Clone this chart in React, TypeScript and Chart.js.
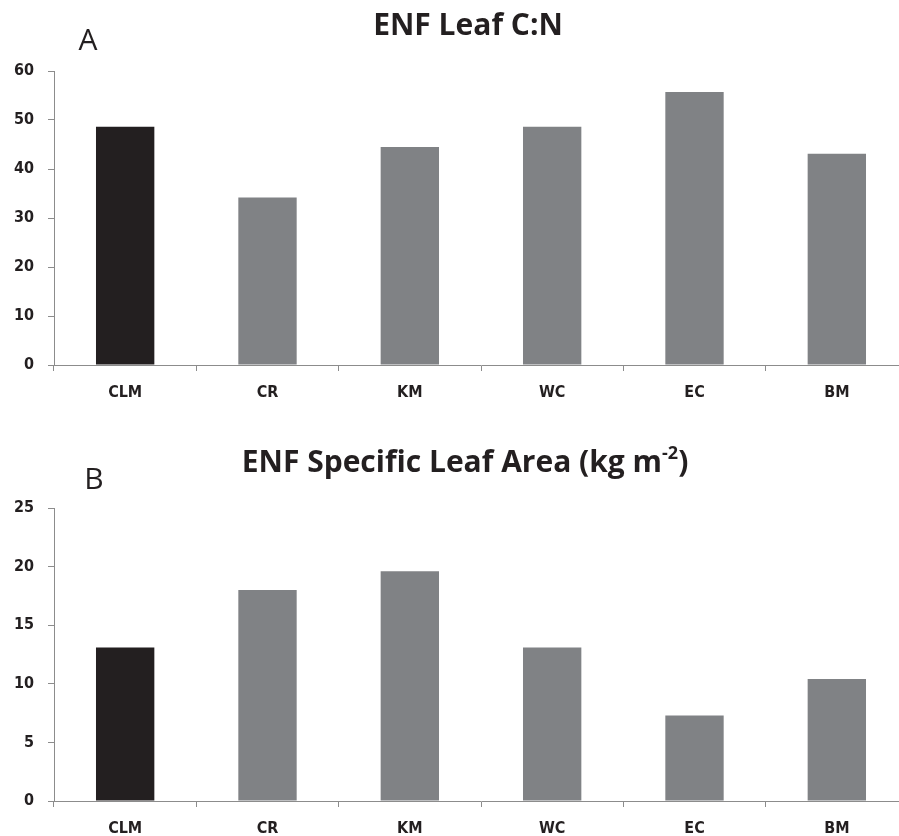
import React, { useEffect, useRef } from "react";
import { Chart, registerables } from "chart.js";

Chart.register(...registerables);

const categories = ["CLM", "CR", "KM", "WC", "EC", "BM"];
const leafCN = [48.6, 34.2, 44.5, 48.6, 55.7, 43.1];
const specificLeafArea = [13.1, 18.0, 19.6, 13.1, 7.3, 10.4];
const barColors = ["#231f20", "#808285", "#808285", "#808285", "#808285", "#808285"];

const titleA = [{ text: "ENF Leaf C:N" }];
const titleB = [
  { text: "ENF Specific Leaf Area (kg m" },
  { text: "-2", sup: true },
  { text: ")" },
];

const AXIS = "#8c8c8c";
const INK = "#231f20";

type Seg = { text: string; sup?: boolean };

const panelText = {
  id: "panelText",
  afterDraw(chart: any, _args: any, opts: any) {
    const ctx = chart.ctx as CanvasRenderingContext2D;
    ctx.save();
    ctx.fillStyle = INK;
    ctx.textBaseline = "alphabetic";
    const mainFont = `bold ${opts.titleSize}px "Open Sans"`;
    const supFont = `bold ${Math.round(opts.titleSize * 0.6)}px "Open Sans"`;
    const segs: Seg[] = opts.title;
    let total = 0;
    const widths = segs.map((s) => {
      ctx.font = s.sup ? supFont : mainFont;
      const w = ctx.measureText(s.text).width;
      total += w;
      return w;
    });
    let x = opts.titleX - total / 2;
    ctx.textAlign = "left";
    segs.forEach((s, i) => {
      ctx.font = s.sup ? supFont : mainFont;
      ctx.fillText(s.text, x, s.sup ? opts.titleY - opts.titleSize * 0.42 : opts.titleY);
      x += widths[i];
    });
    ctx.font = `${opts.letterSize}px "Open Sans"`;
    ctx.textAlign = "center";
    ctx.fillText(opts.letter, opts.letterX, opts.letterY);
    ctx.restore();
  },
};

type PanelProps = {
  values: number[];
  yMax: number;
  yStep: number;
  padTop: number;
  xHeight: number;
  title: Seg[];
  titleX: number;
  titleY: number;
  letter: string;
  letterX: number;
  letterY: number;
};

function BarPanel(p: PanelProps) {
  const ref = useRef<HTMLCanvasElement | null>(null);
  useEffect(() => {
    if (!ref.current) return;
    const tickFont = {
      family: '"DejaVu Sans Condensed", "DejaVu Sans"',
      size: 16,
      weight: "bold" as const,
    };
    const chart = new Chart(ref.current, {
      type: "bar",
      data: {
        labels: categories,
        datasets: [
          {
            data: p.values,
            backgroundColor: barColors,
            borderWidth: 0,
            categoryPercentage: 1,
            barPercentage: 0.41,
          },
        ],
      },
      options: {
        responsive: false,
        animation: false,
        devicePixelRatio: 1,
        layout: { padding: { top: p.padTop, right: 4, left: 0, bottom: 0 } },
        plugins: {
          legend: { display: false },
          tooltip: { enabled: false },
          title: { display: false },
          panelText: {
            title: p.title,
            titleSize: 30,
            titleX: p.titleX,
            titleY: p.titleY,
            letter: p.letter,
            letterSize: 30,
            letterX: p.letterX,
            letterY: p.letterY,
          },
        } as any,
        scales: {
          x: {
            grid: {
              offset: true,
              drawOnChartArea: false,
              drawTicks: true,
              tickLength: 6,
              color: AXIS,
            },
            border: { display: true, color: AXIS, width: 1 },
            ticks: { font: tickFont, color: INK, padding: 12, maxRotation: 0 },
            afterFit: (scale: any) => {
              scale.height = p.xHeight;
            },
          },
          y: {
            min: 0,
            max: p.yMax,
            grid: {
              drawOnChartArea: false,
              drawTicks: true,
              tickLength: 6,
              color: AXIS,
            },
            border: { display: true, color: AXIS, width: 1 },
            ticks: { stepSize: p.yStep, font: tickFont, color: INK, padding: 14 },
            afterFit: (scale: any) => {
              scale.width = 54;
            },
          },
        },
      },
      plugins: [panelText],
    });
    return () => chart.destroy();
  }, []);
  return <canvas ref={ref} width={912} height={418} style={{ display: "block" }} />;
}

export default function App() {
  return (
    <div
      style={{
        position: "fixed",
        left: 0,
        top: 0,
        width: 899,
        height: 836,
        overflow: "hidden",
        background: "#ffffff",
      }}
    >
      <BarPanel
        values={leafCN}
        yMax={60}
        yStep={10}
        padTop={71}
        xHeight={53}
        title={titleA}
        titleX={468}
        titleY={35}
        letter="A"
        letterX={88}
        letterY={50}
      />
      <BarPanel
        values={specificLeafArea}
        yMax={25}
        yStep={5}
        padTop={90}
        xHeight={35}
        title={titleB}
        titleX={465}
        titleY={54}
        letter="B"
        letterX={94}
        letterY={71}
      />
    </div>
  );
}
